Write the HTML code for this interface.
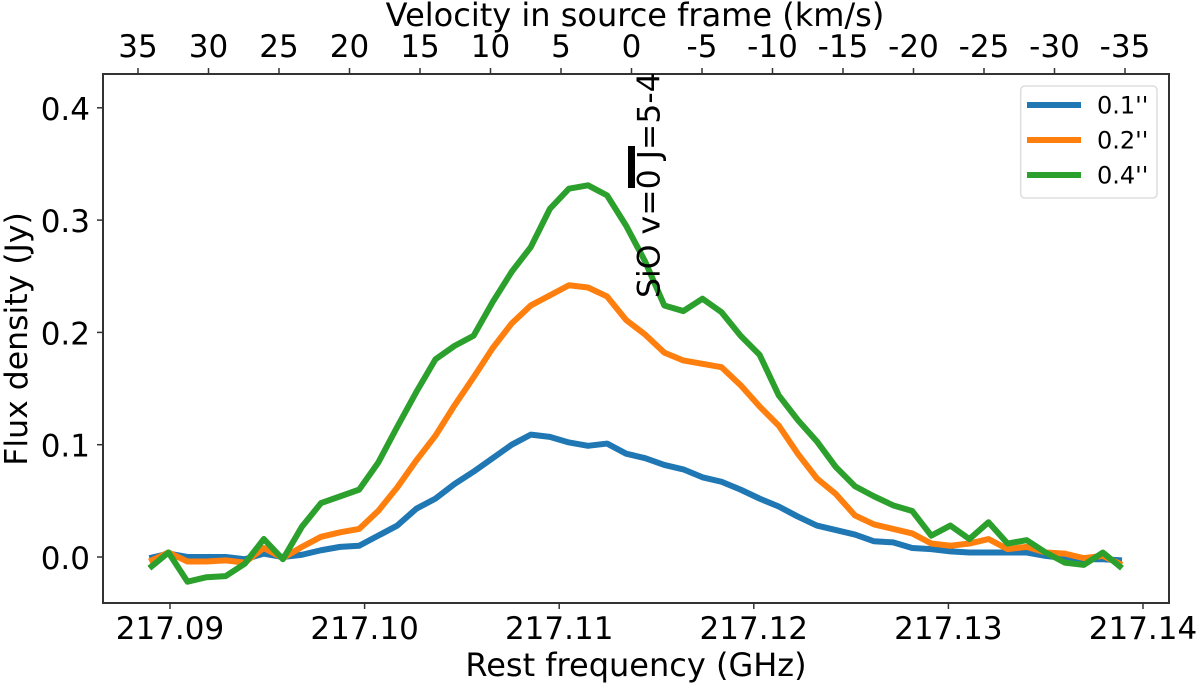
<!DOCTYPE html>
<html>
<head>
<meta charset="utf-8">
<title>SiO spectrum</title>
<style>
html,body{margin:0;padding:0;background:#fff;}
svg{display:block;}
text{font-family:"DejaVu Sans","Liberation Sans",sans-serif;fill:#000;}
</style>
</head>
<body>
<svg id="chart" width="1200" height="687" viewBox="0 0 1200 687" xmlns="http://www.w3.org/2000/svg"></svg>
<script>
const frequencies = [217.08894,217.08992,217.0909,217.09188,217.09286,217.09384,217.09482,217.0958,217.09678,217.09776,217.09874,217.09972,217.1007,217.10168,217.10266,217.10364,217.10462,217.1056,217.10658,217.10756,217.10854,217.10952,217.1105,217.11148,217.11246,217.11344,217.11442,217.1154,217.11638,217.11736,217.11834,217.11932,217.1203,217.12128,217.12226,217.12324,217.12422,217.1252,217.12618,217.12716,217.12814,217.12912,217.1301,217.13108,217.13206,217.13304,217.13402,217.135,217.13598,217.13696,217.13794,217.13892];
const seriesBlue = [-0.001,0.003,0.000,0.000,0.000,-0.002,0.003,0.000,0.002,0.006,0.009,0.010,0.019,0.028,0.043,0.052,0.065,0.076,0.088,0.100,0.109,0.107,0.102,0.099,0.101,0.092,0.088,0.082,0.078,0.071,0.067,0.060,0.052,0.045,0.036,0.028,0.024,0.020,0.014,0.013,0.008,0.007,0.005,0.004,0.004,0.004,0.004,0.001,-0.001,-0.002,-0.002,-0.003];
const seriesOrange = [-0.004,0.004,-0.004,-0.004,-0.003,-0.005,0.008,-0.001,0.009,0.018,0.022,0.025,0.041,0.062,0.086,0.108,0.135,0.160,0.186,0.208,0.224,0.233,0.242,0.240,0.232,0.211,0.198,0.182,0.175,0.172,0.169,0.153,0.134,0.117,0.092,0.070,0.056,0.037,0.029,0.025,0.021,0.012,0.010,0.012,0.016,0.007,0.009,0.004,0.003,-0.001,0.001,-0.007];
const seriesGreen = [-0.010,0.004,-0.022,-0.018,-0.017,-0.006,0.016,-0.002,0.027,0.048,0.054,0.060,0.084,0.116,0.147,0.176,0.188,0.197,0.227,0.254,0.276,0.310,0.328,0.331,0.322,0.295,0.263,0.224,0.219,0.230,0.218,0.197,0.180,0.144,0.122,0.103,0.080,0.063,0.054,0.046,0.041,0.019,0.028,0.016,0.031,0.012,0.015,0.004,-0.005,-0.007,0.004,-0.010];
const xTicks = [217.09,217.10,217.11,217.12,217.13,217.14];
const xTickLabels = ["217.09","217.10","217.11","217.12","217.13","217.14"];
const yTicks = [0.0,0.1,0.2,0.3,0.4];
const yTickLabels = ["0.0","0.1","0.2","0.3","0.4"];
const velocityTicks = [35,30,25,20,15,10,5,0,-5,-10,-15,-20,-25,-30,-35];
const velocityTickLabels = ["35","30","25","20","15","10","5","0","-5","-10","-15","-20","-25","-30","-35"];
const legendLabels = ["0.1''","0.2''","0.4''"];

const NS = "http://www.w3.org/2000/svg";
const svg = document.getElementById("chart");
const plotL = 103, plotR = 1169, plotT = 74, plotB = 603;
const xScale = f => 170 + (f - 217.09) * 19460;
const yScale = v => 557 - v * 1123;
const velScale = v => 631.5 - v * 14.1;

function make(tag, attrs, text) {
  const el = document.createElementNS(NS, tag);
  for (const k in attrs) el.setAttribute(k, attrs[k]);
  if (text !== undefined) el.textContent = text;
  svg.appendChild(el);
  return el;
}
const inkColor = "#333";

// series
function drawSeries(values, color, name) {
  const pts = values.map((v, i) => xScale(frequencies[i]).toFixed(2) + "," + yScale(v).toFixed(2)).join(" ");
  const line = make("polyline", {points: pts, fill: "none", stroke: color, "stroke-width": 6, "stroke-linejoin": "round", "stroke-linecap": "butt"});
  
  
}
drawSeries(seriesBlue, "#1f77b4", "series-0-1-arcsec");
drawSeries(seriesOrange, "#ff7f0e", "series-0-2-arcsec");
drawSeries(seriesGreen, "#2ca02c", "series-0-4-arcsec");

// frame
const frame = make("rect", {x: plotL, y: plotT, width: plotR - plotL, height: plotB - plotT, fill: "none", stroke: inkColor, "stroke-width": 2});



// bottom axis
xTicks.forEach((t, i) => {
  const x = xScale(t);
  const tick = make("line", {x1: x, x2: x, y1: plotB, y2: plotB + 6, stroke: inkColor, "stroke-width": 1.5});
  
  
  const lab = make("text", {x: x, y: 639, "text-anchor": "middle", "font-size": 31}, xTickLabels[i]);
  
  
});

// left axis
yTicks.forEach((t, i) => {
  const y = yScale(t);
  const tick = make("line", {x1: plotL - 6, x2: plotL, y1: y, y2: y, stroke: inkColor, "stroke-width": 1.5});
  
  
  const lab = make("text", {x: 90, y: y + 12, "text-anchor": "end", "font-size": 31}, yTickLabels[i]);
  
  
});

// top axis
velocityTicks.forEach((t, i) => {
  const x = velScale(t);
  const tick = make("line", {x1: x, x2: x, y1: plotT - 6, y2: plotT, stroke: inkColor, "stroke-width": 1.5});
  
  
  const lab = make("text", {x: x, y: 57, "text-anchor": "middle", "font-size": 31}, velocityTickLabels[i]);
  
  
});

// axis titles
const xTitle = make("text", {x: 636, y: 676, "text-anchor": "middle", "font-size": 32}, "Rest frequency (GHz)");


const topTitle = make("text", {x: 635, y: 26, "text-anchor": "middle", "font-size": 32}, "Velocity in source frame (km/s)");


const yTitle = make("text", {x: 0, y: 0, "text-anchor": "middle", "font-size": 31.5, transform: "translate(27,339) rotate(-90)"}, "Flux density (Jy)");



// line annotation
const annotation = make("text", {x: 0, y: 0, "text-anchor": "start", "font-size": 31.5, transform: "translate(659.5,298) rotate(-90)"}, "SiO v=0 J=5-4");


const overbar = make("rect", {x: 628, y: 146, width: 7, height: 42, fill: "#000"});



// legend
const legendBox = make("rect", {x: 1020.7, y: 86, width: 136.3, height: 112, rx: 4, fill: "#fff", "fill-opacity": 0.8, stroke: "#ddd", "stroke-width": 1.5});


const legendColors = ["#1f77b4", "#ff7f0e", "#2ca02c"];
legendLabels.forEach((l, i) => {
  const y = 105 + i * 35;
  const handle = make("line", {x1: 1027, x2: 1081, y1: y, y2: y, stroke: legendColors[i], "stroke-width": 6});
  
  
  const lab = make("text", {x: 1097, y: y + 8.5, "font-size": 24}, l);
  
  
});
</script>
</body>
</html>
